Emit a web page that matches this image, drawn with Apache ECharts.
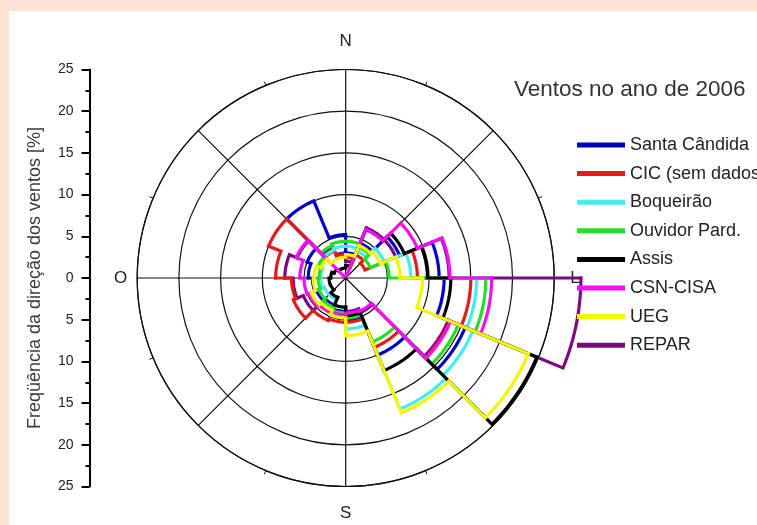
<!DOCTYPE html>
<html>
<head>
<meta charset="utf-8">
<script src="https://cdn.jsdelivr.net/npm/echarts@6/dist/echarts.min.js"></script>
<style>
  html, body { margin: 0; padding: 0; background: #fde3d3; }
  #frame { position: relative; width: 757px; height: 525px; background: #fde3d3; overflow: hidden; }
  #panel { position: absolute; left: 9px; top: 11px; right: 0; bottom: 0; background: #ffffff; }
  #chart { position: absolute; left: 0; top: 0; width: 757px; height: 525px; }
</style>
</head>
<body>
<div id="frame">
  <div id="panel"></div>
  <div id="chart"></div>
</div>
<script>
// Wind direction sectors, clockwise from north; each sector spans SECTOR_WIDTH degrees
const directions = ['N', 'NNE', 'NE', 'ENE', 'E', 'ESE', 'SE', 'SSE',
                    'S', 'SSW', 'SW', 'WSW', 'W', 'WNW', 'NW', 'NNW'];
const SECTOR_WIDTH = 22.5;

// Frequency of each wind direction [%] per station, 2006
const santaCandida = [3.0, 4.5, 7.0, 11.2, 11.8, 15.5, 10.0, 5.0, 4.0, 3.5, 3.8, 4.0, 4.5, 5.0, 10.0, 5.2];
const cic          = [2.5, 3.0, 2.5, 8.6, 15.0, 13.5, 9.0, 5.3, 5.3, 5.5, 6.8, 6.5, 8.4, 10.0, 3.5, 2.8];
const boqueirao    = [3.8, 3.5, 5.0, 7.8, 15.7, 16.5, 17.0, 6.1, 3.5, 2.8, 2.8, 3.0, 3.0, 3.3, 3.6, 3.8];
const ouvidorPard  = [4.4, 4.0, 3.2, 5.2, 16.8, 14.6, 8.3, 4.8, 4.2, 3.8, 3.5, 3.3, 3.2, 3.6, 4.2, 4.4];
const assis        = [1.5, 6.3, 7.6, 9.8, 12.6, 24.8, 12.0, 4.5, 3.5, 2.5, 2.0, 2.0, 1.8, 1.5, 1.2, 1.2];
const csnCisa      = [0.3, 6.3, 9.3, 12.5, 17.5, 13.6, 4.3, 4.2, 4.4, 4.5, 4.8, 5.0, 5.5, 6.4, 0.3, 0.3];
const ueg          = [2.8, 4.2, 4.5, 6.5, 9.2, 23.7, 17.5, 6.9, 4.8, 4.2, 4.5, 3.9, 3.8, 3.2, 2.5, 2.5];
const repar        = [2.0, 6.5, 6.5, 12.4, 28.2, 13.3, 4.5, 4.0, 4.2, 4.5, 5.5, 6.3, 7.3, 6.3, 4.0, 3.0];

// Legend entries in display order
const stationNames = ['Santa Cândida', 'CIC (sem dados)', 'Boqueirão', 'Ouvidor Pard.',
                      'Assis', 'CSN-CISA', 'UEG', 'REPAR'];

// Frequency scale ticks (shown mirrored above and below the centre)
const freqMax = 25;
const freqStep = 5;

// Cardinal point labels (Portuguese: Norte, Leste, Sul, Oeste)
const cardinalLabels = { 0: '{n|N}', 90: '{e|L}', 180: '{s|S}', 270: '{w|O}' };

const stations = [
  { name: 'REPAR',           values: repar,        color: '#7a0a7e' },
  { name: 'Santa Cândida',   values: santaCandida, color: '#0000cc' },
  { name: 'CIC (sem dados)', values: cic,          color: '#e31b1b' },
  { name: 'Boqueirão',       values: boqueirao,    color: '#40eef0' },
  { name: 'Ouvidor Pard.',   values: ouvidorPard,  color: '#22e022' },
  { name: 'Assis',           values: assis,        color: '#000000' },
  { name: 'CSN-CISA',        values: csnCisa,      color: '#f20ff2' },
  { name: 'UEG',             values: ueg,          color: '#f5f500' }
];

// Each sector row: [frequency, start angle, end angle, next sector frequency]
function sectorRows(values) {
  return directions.map((d, k) => [
    values[k],
    k * SECTOR_WIDTH,
    (k + 1) * SECTOR_WIDTH,
    values[(k + 1) % values.length]
  ]);
}

// Outline of one sector: the arc at its frequency, then the radial step to the next sector
function renderSector(params, api) {
  const r = api.value(0);
  const a0 = api.value(1);
  const a1 = api.value(2);
  const rNext = api.value(3);
  const pts = [];
  for (let a = a0; a <= a1 + 1e-6; a += 1.5) {
    pts.push(api.coord([r, a]));
  }
  pts.push(api.coord([rNext, a1]));
  return {
    type: 'polyline',
    shape: { points: pts },
    style: {
      stroke: api.visual('color'),
      lineWidth: 3.2,
      fill: null,
      lineJoin: 'miter',
      lineCap: 'square'
    }
  };
}

const FONT = '"Liberation Sans", Arial, sans-serif';
const cardinalStyle = { fontFamily: FONT, fontSize: 17, color: '#222222' };
const chart = echarts.init(document.getElementById('chart'), null, { renderer: 'canvas' });

chart.setOption({
  backgroundColor: 'transparent',
  animation: false,
  textStyle: { fontFamily: FONT },
  title: {
    text: 'Ventos no ano de 2006',
    left: 509,
    top: 73,
    textStyle: { fontFamily: FONT, fontSize: 22.5, fontWeight: 'normal', color: '#333333' }
  },
  legend: {
    orient: 'vertical',
    left: 572,
    top: 131,
    itemWidth: 48,
    itemHeight: 5,
    itemGap: 10.6,
    icon: 'rect',
    data: stationNames,
    textStyle: { fontFamily: FONT, fontSize: 18, lineHeight: 18, color: '#222222' },
    selectedMode: false
  },
  polar: {
    center: [345.7, 278],
    radius: 208.5
  },
  angleAxis: {
    type: 'value',
    min: 0,
    max: 360,
    interval: 45,
    startAngle: 90,
    clockwise: true,
    axisLine: { show: true, lineStyle: { color: '#111111', width: 1.2 } },
    axisTick: { show: false },
    minorTick: { show: true, splitNumber: 2, length: 4, lineStyle: { color: '#111111', width: 1 } },
    splitLine: { show: true, lineStyle: { color: '#111111', width: 1.2 } },
    axisLabel: {
      show: true,
      margin: 10,
      formatter: v => cardinalLabels[v] || '',
      rich: {
        n: Object.assign({ padding: [0, 0, 10, 0] }, cardinalStyle),
        e: Object.assign({ padding: [0, 0, 0, 6] }, cardinalStyle),
        s: Object.assign({ padding: [8, 0, 0, 0] }, cardinalStyle),
        w: Object.assign({ padding: [0, 0, 0, 0] }, cardinalStyle)
      }
    }
  },
  radiusAxis: {
    type: 'value',
    min: 0,
    max: freqMax,
    interval: freqStep,
    axisLine: { show: false },
    axisTick: { show: false },
    axisLabel: { show: false },
    splitLine: { show: true, lineStyle: { color: '#111111', width: 1.2 } }
  },
  grid: {
    left: 89.5,
    top: 69.5,
    height: 417,
    width: 1
  },
  xAxis: { type: 'value', show: false },
  yAxis: {
    type: 'value',
    min: -freqMax,
    max: freqMax,
    interval: freqStep,
    name: 'Freqüência da direção dos ventos [%]',
    nameLocation: 'middle',
    nameGap: 45,
    nameRotate: 90,
    nameTextStyle: { fontFamily: FONT, fontSize: 18, color: '#3a3a3a' },
    axisLine: { show: true, lineStyle: { color: '#000000', width: 2 } },
    axisTick: { show: true, length: 8, lineStyle: { color: '#000000', width: 2 } },
    minorTick: { show: true, splitNumber: 2, length: 4, lineStyle: { color: '#000000', width: 2 } },
    splitLine: { show: false },
    axisLabel: {
      margin: 16,
      fontFamily: FONT,
      fontSize: 14,
      color: '#222222',
      formatter: v => String(Math.abs(v))
    }
  },
  series: stations.map((s, i) => ({
    type: 'custom',
    name: s.name,
    coordinateSystem: 'polar',
    polarIndex: 0,
    encode: { radius: 0, angle: 1 },
    clip: false,
    z: 2 + i,
    itemStyle: { color: s.color },
    renderItem: renderSector,
    data: sectorRows(s.values)
  }))
});
</script>
</body>
</html>
